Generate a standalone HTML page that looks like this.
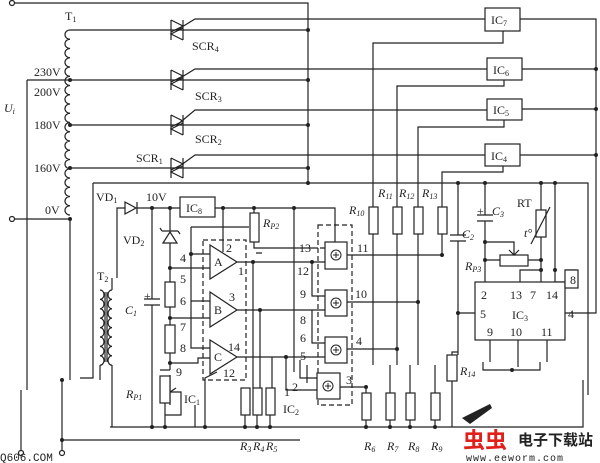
<!DOCTYPE html>
<html><head><meta charset="utf-8"><style>
html,body{margin:0;padding:0;background:#fff;}
svg{display:block}
text{font-family:"Liberation Serif",serif;fill:#222;font-size:12px}
.s{font-size:8px}
</style></head><body>
<svg width="600" height="463" viewBox="0 0 600 463" xmlns="http://www.w3.org/2000/svg">
<g stroke="#222" stroke-width="1.2" fill="none">
<path d="M15,3 H308 V183"/>
<circle cx="12" cy="3" r="2.5" fill="#fff"/>
<path d="M70,30 a5,4.6 0 0 0 0,9.25 a5,4.6 0 0 0 0,9.25 a5,4.6 0 0 0 0,9.25 a5,4.6 0 0 0 0,9.25 a5,4.6 0 0 0 0,9.25 a5,4.6 0 0 0 0,9.25 a5,4.6 0 0 0 0,9.25 a5,4.6 0 0 0 0,9.25 a5,4.6 0 0 0 0,9.25 a5,4.6 0 0 0 0,9.25 a5,4.6 0 0 0 0,9.25 a5,4.6 0 0 0 0,9.25 a5,4.6 0 0 0 0,9.25 a5,4.6 0 0 0 0,9.25 a5,4.6 0 0 0 0,9.25 a5,4.6 0 0 0 0,9.25 a5,4.6 0 0 0 0,9.25 a5,4.6 0 0 0 0,9.25 a5,4.6 0 0 0 0,9.25 a5,4.6 0 0 0 0,9.25"/>
<path d="M70,30 H308 M70,80 H308 M70,125 H308 M70,168 H308"/>
<path d="M27,80 H70 M27,80 V390 M21,390 V450 M15,219 H70 V380 M62,380 V450"/>
<circle cx="12" cy="219" r="2.5" fill="#fff"/>
<circle cx="21" cy="453" r="2.5" fill="#fff"/>
<circle cx="62" cy="453" r="2.5" fill="#fff"/>
<path d="M171,20 V40 M183,20 V40 M171,20 L183,26 L171,32 M183,28 L171,34 L183,40 M177,30 L195,19 H485"/>
<path d="M171,70 V90 M183,70 V90 M171,70 L183,76 L171,82 M183,78 L171,84 L183,90 M177,80 L195,69 H487"/>
<path d="M171,115 V135 M183,115 V135 M171,115 L183,121 L171,127 M183,123 L171,129 L183,135 M177,125 L195,110 H487"/>
<path d="M171,158 V178 M183,158 V178 M171,158 L183,164 L171,170 M183,166 L171,172 L183,178 M177,168 L195,155 H485"/>
<rect x="485" y="8" width="35" height="23" fill="#fff"/>
<rect x="487" y="58" width="35" height="22" fill="#fff"/>
<rect x="487" y="99" width="35" height="21" fill="#fff"/>
<rect x="485" y="144" width="35" height="22" fill="#fff"/>
<path d="M520,19 H596 V313 H565 M522,69 H596 M522,109 H596 M520,155 H596"/>
<path d="M503,31 V43 H373 V207 M504,80 V86 H397 V207 M504,120 V127 H418 V207 M503,166 V172 H442 V207"/>
<path d="M93,183 H588 V395 M93,183 V378 H80"/>
<rect x="369" y="207" width="9" height="27" fill="#fff"/>
<rect x="393" y="207" width="9" height="27" fill="#fff"/>
<rect x="414" y="207" width="9" height="27" fill="#fff"/>
<rect x="438" y="207" width="9" height="27" fill="#fff"/>
<path d="M373,234 V365 M397,234 V365 M418,234 V365 M442,234 V255"/>
<path d="M100,290 a4,4.7 0 0 1 0,9.4 a4,4.7 0 0 1 0,9.4 a4,4.7 0 0 1 0,9.4 a4,4.7 0 0 1 0,9.4 a4,4.7 0 0 1 0,9.4 a4,4.7 0 0 1 0,9.4 a4,4.7 0 0 1 0,9.4 a4,4.7 0 0 1 0,9.4"/>
<path d="M112,290 a4,4.7 0 0 0 0,9.4 a4,4.7 0 0 0 0,9.4 a4,4.7 0 0 0 0,9.4 a4,4.7 0 0 0 0,9.4 a4,4.7 0 0 0 0,9.4 a4,4.7 0 0 0 0,9.4 a4,4.7 0 0 0 0,9.4 a4,4.7 0 0 0 0,9.4"/>
<path d="M105,292 V362 M107,292 V362 M100,365 V380 M112,290 V278 M117,278 V208 H125 M112,365 V427"/>
<path d="M125,202 L136,208 L125,214 Z M137,202 V214 M137,208 H180 M215,208 H335 V242"/>
<rect x="180" y="197" width="35" height="20" fill="#fff"/>
<path d="M152,208 V299 M144,299 H160 M144,305 H160 M152,305 V427"/>
<path d="M170,208 V231 M163,243 L170,232 L177,243 Z M162,231 H178 M162,231 L160,228 M178,231 L180,234 M170,243 V282 M170,307 V325 M170,353 V370 M170,375 V405"/>
<rect x="165" y="282" width="10" height="25" fill="#fff"/>
<rect x="165" y="325" width="10" height="28" fill="#fff"/>
<rect x="160" y="376" width="10" height="27" fill="#fff"/>
<path d="M160,370 H170 M170,392 L176,388 M170,392 H181 V415 H165 V403 M165,415 V427"/>
<rect x="203" y="240" width="43" height="140" stroke-dasharray="5,3"/>
<path d="M210,245 L237,262 L210,279 Z M210,292 L237,310 L210,327 Z M210,340 L237,357 L210,374 Z"/>
<path d="M191,254 H210 M170,268 H210 M191,301 H210 M170,318 H210 M170,363 H198 V358 H210 M191,227 V348 H210 M191,227 H249 M223,208 V252"/>
<path d="M217,372 L205,378 V405 M205,405 V427 M195,405 V427"/>
<rect x="250" y="213" width="9" height="29" fill="#fff"/>
<path d="M254,208 V213 M254,242 V248 H318 M256,253 H262"/>
<path d="M237,262 H320 M237,310 H320 M237,357 H320 M253,262 V388 M260,310 V388 M272,357 V388 M294,208 V372 M286,357 V372"/>
<rect x="241" y="388" width="9" height="27" fill="#fff"/>
<rect x="253" y="388" width="9" height="27" fill="#fff"/>
<rect x="266" y="388" width="9" height="27" fill="#fff"/>
<path d="M245,415 V427 M257,415 V427 M270,415 V427"/>
<path d="M110,427 H583 V380"/>
<path d="M62,440 H300"/>
<rect x="318" y="225" width="34" height="180" stroke-dasharray="5,3"/>
<rect x="325" y="242" width="22" height="27" fill="#fff"/>
<rect x="325" y="290" width="22" height="26" fill="#fff"/>
<rect x="325" y="337" width="22" height="26" fill="#fff"/>
<rect x="317" y="373" width="23" height="26" fill="#fff"/>
<path d="M312,262 V296 H325 M312,310 V343 H325 M320,248 H325 M320,262 H325 M320,310 H325 M320,357 H325 M300,360 V378 H317 M286,372 V390 H317 M307,365 V383"/>
<path d="M347,255 H442 M347,302 H418 M347,349 H397 M340,387 H366 V393"/>
<rect x="362" y="393" width="9" height="27" fill="#fff"/>
<rect x="386" y="393" width="9" height="27" fill="#fff"/>
<rect x="406" y="393" width="9" height="27" fill="#fff"/>
<rect x="431" y="393" width="9" height="27" fill="#fff"/>
<path d="M390,365 V393 M410,365 V393 M435,365 V393 M366,420 V427 M390,420 V427 M410,420 V427 M435,420 V427"/>
<path d="M458,183 V235 M450,235 H466 M450,241 H466 M458,241 V355 M458,313 H475"/>
<path d="M485,183 V215 M477,215 H493 M477,221 H493 M485,221 V282"/>
<path d="M541,183 V210 M541,237 V282 M555,183 V282 M555,282 H576 V270 H565"/>
<rect x="536" y="210" width="10" height="27" fill="#fff"/>
<path d="M531,244 L550,207"/>
<rect x="500" y="255" width="28" height="11" fill="#fff"/>
<path d="M485,260 H500 M528,260 H541 M485,242 H514 V255 M509,250 L514,255 L519,250 M520,282 V270 H541"/>
<rect x="475" y="282" width="90" height="58" fill="#fff"/>
<rect x="565" y="270" width="13" height="18" fill="#fff"/>
<path d="M490,340 V362 M518,340 V367 M547,340 V362 M483,362 V370 H540 V362"/>
<rect x="447" y="355" width="10" height="26" fill="#fff"/>
<path d="M452,355 V352 H458 M452,381 V427"/>
</g>
<g fill="#222">
<circle cx="70" cy="80" r="2"/><circle cx="70" cy="125" r="2"/><circle cx="70" cy="168" r="2"/><circle cx="70" cy="219" r="2"/>
<circle cx="308" cy="30" r="2"/><circle cx="308" cy="80" r="2"/><circle cx="308" cy="125" r="2"/><circle cx="308" cy="168" r="2"/><circle cx="308" cy="183" r="2"/>
<circle cx="596" cy="69" r="2"/><circle cx="596" cy="109" r="2"/><circle cx="596" cy="155" r="2"/>
<circle cx="458" cy="183" r="2"/><circle cx="485" cy="183" r="2"/><circle cx="541" cy="183" r="2"/><circle cx="555" cy="183" r="2"/>
<circle cx="152" cy="208" r="2"/><circle cx="170" cy="208" r="2"/><circle cx="223" cy="208" r="2"/><circle cx="254" cy="208" r="2"/><circle cx="294" cy="208" r="2"/>
<circle cx="191" cy="254" r="2"/><circle cx="170" cy="268" r="2"/><circle cx="170" cy="318" r="2"/><circle cx="170" cy="363" r="2"/>
<circle cx="253" cy="262" r="2"/><circle cx="260" cy="310" r="2"/><circle cx="286" cy="357" r="2"/><circle cx="312" cy="262" r="2"/>
<circle cx="442" cy="255" r="2"/><circle cx="418" cy="302" r="2"/><circle cx="397" cy="349" r="2"/><circle cx="366" cy="387" r="2"/>
<circle cx="485" cy="242" r="2"/><circle cx="485" cy="260" r="2"/><circle cx="541" cy="260" r="2"/><circle cx="541" cy="270" r="2"/><circle cx="555" cy="270" r="2"/><circle cx="458" cy="313" r="2"/><circle cx="512" cy="370" r="2"/>
<circle cx="152" cy="427" r="2"/><circle cx="165" cy="427" r="2"/><circle cx="205" cy="427" r="2"/><circle cx="245" cy="427" r="2"/><circle cx="257" cy="427" r="2"/><circle cx="270" cy="427" r="2"/>
<circle cx="366" cy="427" r="2"/><circle cx="390" cy="427" r="2"/><circle cx="410" cy="427" r="2"/><circle cx="435" cy="427" r="2"/>
<circle cx="62" cy="440" r="2"/><circle cx="62" cy="380" r="2"/>
</g>
<g fill="none" stroke="#222" stroke-width="1">
<circle cx="336" cy="255" r="5"/><circle cx="336" cy="303" r="5"/><circle cx="336" cy="350" r="5"/><circle cx="328" cy="386" r="5"/>
<path d="M333,255 h6 M336,252 v6 M333,303 h6 M336,300 v6 M333,350 h6 M336,347 v6 M325,386 h6 M328,383 v6"/>
</g>
<text x="65" y="20">T<tspan class="s" dy="2">1</tspan></text>
<text x="4" y="112" font-style="italic">U<tspan class="s" dy="2">i</tspan></text>
<text x="34" y="76">230V</text><text x="34" y="96">200V</text><text x="34" y="129">180V</text><text x="34" y="172">160V</text><text x="45" y="214">0V</text>
<text x="192" y="50">SCR<tspan class="s" dy="2">4</tspan></text>
<text x="195" y="100">SCR<tspan class="s" dy="2">3</tspan></text>
<text x="195" y="143">SCR<tspan class="s" dy="2">2</tspan></text>
<text x="136" y="162">SCR<tspan class="s" dy="2">1</tspan></text>
<text x="491" y="24">IC<tspan class="s" dy="2">7</tspan></text>
<text x="493" y="74">IC<tspan class="s" dy="2">6</tspan></text>
<text x="493" y="114">IC<tspan class="s" dy="2">5</tspan></text>
<text x="491" y="160">IC<tspan class="s" dy="2">4</tspan></text>
<text x="96" y="201">VD<tspan class="s" dy="2">1</tspan></text>
<text x="146" y="201">10V</text>
<text x="186" y="212">IC<tspan class="s" dy="2">8</tspan></text>
<text x="123" y="244">VD<tspan class="s" dy="2">2</tspan></text>
<text x="263" y="227" font-style="italic">R<tspan class="s" dy="2">P2</tspan></text>
<text x="97" y="280">T<tspan class="s" dy="2">2</tspan></text>
<text x="125" y="314" font-style="italic">C<tspan class="s" dy="2">1</tspan></text>
<text x="144" y="300" font-size="10">+</text>
<text x="126" y="398" font-style="italic">R<tspan class="s" dy="2">P1</tspan></text>
<text x="184" y="403">IC<tspan class="s" dy="2">1</tspan></text>
<text x="283" y="413">IC<tspan class="s" dy="2">2</tspan></text>
<text x="214" y="266">A</text><text x="214" y="314">B</text><text x="214" y="361">C</text>
<g font-size="11">
<text x="226" y="252">2</text><text x="238" y="275">1</text><text x="229" y="301">3</text><text x="228" y="351">14</text><text x="223" y="377">12</text>
<text x="180" y="262">4</text><text x="180" y="283">5</text><text x="180" y="305">6</text><text x="180" y="331">7</text><text x="180" y="352">8</text><text x="176" y="376">9</text>
<text x="299" y="252">13</text><text x="297" y="275">12</text><text x="300" y="298">9</text><text x="300" y="324">8</text><text x="300" y="342">6</text><text x="300" y="360">5</text><text x="292" y="391">2</text><text x="284" y="396">1</text>
<text x="357" y="252">11</text><text x="355" y="298">10</text><text x="356" y="345">4</text><text x="346" y="384">3</text>
<text x="481" y="299">2</text><text x="510" y="299">13</text><text x="530" y="299">7</text><text x="546" y="299">14</text><text x="570" y="284">8</text>
<text x="480" y="318">5</text><text x="568" y="318">4</text><text x="487" y="336">9</text><text x="510" y="336">10</text><text x="541" y="336">11</text>
</g>
<text x="512" y="319">IC<tspan class="s" dy="2">3</tspan></text>
<text x="349" y="214" font-style="italic">R<tspan class="s" dy="2">10</tspan></text>
<text x="378" y="197" font-style="italic">R<tspan class="s" dy="2">11</tspan></text>
<text x="399" y="197" font-style="italic">R<tspan class="s" dy="2">12</tspan></text>
<text x="422" y="197" font-style="italic">R<tspan class="s" dy="2">13</tspan></text>
<text x="462" y="238" font-style="italic">C<tspan class="s" dy="2">2</tspan></text>
<text x="492" y="215" font-style="italic">C<tspan class="s" dy="2">3</tspan></text>
<text x="477" y="215" font-size="10">+</text>
<text x="517" y="207">RT</text>
<text x="524" y="237" font-style="italic">t°</text>
<text x="465" y="270" font-style="italic">R<tspan class="s" dy="2">P3</tspan></text>
<text x="460" y="375" font-style="italic">R<tspan class="s" dy="2">14</tspan></text>
<text x="240" y="450" font-style="italic">R<tspan class="s" dy="2">3</tspan></text>
<text x="253" y="450" font-style="italic">R<tspan class="s" dy="2">4</tspan></text>
<text x="266" y="450" font-style="italic">R<tspan class="s" dy="2">5</tspan></text>
<text x="364" y="450" font-style="italic">R<tspan class="s" dy="2">6</tspan></text>
<text x="387" y="450" font-style="italic">R<tspan class="s" dy="2">7</tspan></text>
<text x="408" y="450" font-style="italic">R<tspan class="s" dy="2">8</tspan></text>
<text x="431" y="450" font-style="italic">R<tspan class="s" dy="2">9</tspan></text>
<text x="0" y="461" style="font-family:'Liberation Mono',monospace;font-size:11px">Q606.COM</text>
<path d="M462,418 L490,404 L492,408 L470,424 Z" fill="#222"/>
<text x="463" y="448" style="font-family:'Liberation Sans','Noto Sans CJK SC',sans-serif;font-size:22px;font-weight:bold;fill:#e0201a">虫虫</text>
<text x="518" y="445" style="font-family:'Liberation Sans','Noto Sans CJK SC',sans-serif;font-size:15px;font-weight:bold;fill:#222">电子下载站</text>
<text x="466" y="461" style="font-family:'Liberation Mono',monospace;font-size:10px;fill:#222;letter-spacing:1px">www.eeworm.com</text>
</svg>
</body></html>
